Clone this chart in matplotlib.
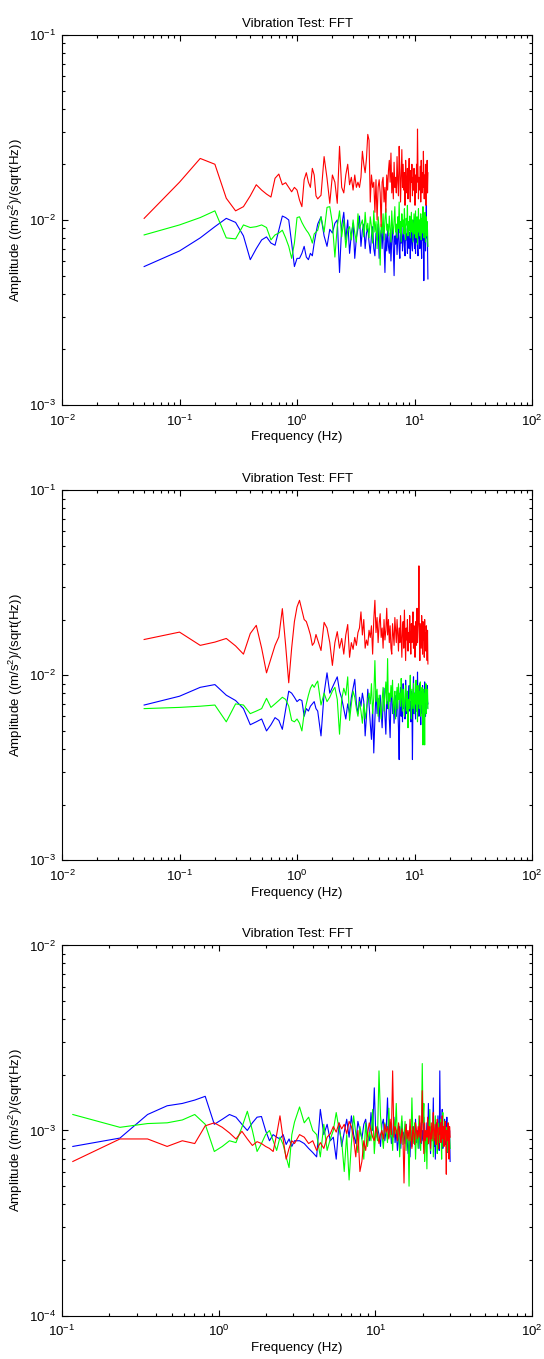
import numpy as np
import matplotlib
matplotlib.use('Agg')
import matplotlib.pyplot as plt
from matplotlib.ticker import LogLocator, NullFormatter

plt.rcParams['font.family'] = ['Liberation Sans', 'DejaVu Sans']
plt.rcParams['mathtext.default'] = 'regular'
plt.rcParams['axes.unicode_minus'] = False

# Amplitudes.  Panels 1-2 in units of 1e-4, panel 3 in 1e-5.
# Panels 1-2: bins every 0.05 Hz up to 1.5 Hz, then every 0.1 Hz up to 13 Hz.
# Panel 3: bins every 0.1172 Hz up to 3.05 Hz, then every other bin up to 30 Hz.

# ---- panel 1 ----
p1_blue = [56, 68, 80, 92, 102, 97, 82, 61, 70, 78, 81, 75, 73, 88, 105, 103, 100, 75, 56, 62,
           62, 66, 72, 63, 61, 66, 64, 75, 85, 95,
           104, 82, 72, 89, 85,
           96, 100, 52, 93, 110, 78, 100, 66, 84, 96,
           62, 80, 90, 105, 72, 88, 95, 70, 85, 90,
           76, 66, 82, 92, 70, 64, 85, 78, 95, 62,
           80, 88, 70, 92, 75, 52, 84, 68, 90, 72,
           66, 85, 60, 78, 94, 70, 50, 82, 74, 88,
           65, 80, 92, 70, 62, 86, 75, 96, 68, 80,
           88, 72, 64, 90, 78, 84, 66, 95, 73, 70,
           86, 62, 80, 92, 74, 68, 88, 78, 100, 70,
           84, 66, 92, 76, 88, 72, 64, 96, 80, 90,
           70, 85, 104, 74, 62, 90, 78, 110, 84, 47,
           92, 76, 100, 68, 86, 120, 80, 94, 72, 48]
p1_green = [83, 94, 103, 112, 80, 79, 94, 91, 92, 94, 91, 78, 83, 85, 88, 80, 72, 62, 75, 103,
            104, 97, 92, 88, 85, 81, 75, 84, 86, 88,
            104, 86, 117, 118, 96,
            63, 92, 112, 81, 100, 71, 88, 92, 78, 100,
            85, 76, 108, 90, 95, 100, 81, 110, 88, 96,
            80, 104, 92, 75, 112, 86, 98, 70, 104, 90,
            57, 95, 85, 108, 78, 100, 115, 88, 95, 82,
            105, 90, 76, 112, 92, 84, 100, 118, 86, 95,
            80, 104, 90, 125, 85, 98, 76, 108, 92, 100,
            84, 115, 90, 78, 102, 94, 120, 82, 98, 88,
            105, 80, 95, 110, 86, 100, 76, 92, 108, 84,
            98, 112, 80, 95, 104, 74, 90, 115, 86, 100,
            82, 96, 108, 78, 92, 102, 85, 118, 90, 80,
            100, 86, 110, 76, 95, 104, 82, 98, 88, 72]
p1_red = [102, 160, 215, 200, 131, 112, 118, 135, 155, 145, 138, 133, 168, 177, 155, 159, 150, 142, 150, 145,
          128, 118, 165, 180, 160, 150, 190, 175, 135, 130,
          136, 220, 168, 123, 175,
          160, 123, 250, 150, 140, 175, 200, 155, 170, 145,
          175, 150, 160, 150, 170, 235, 200, 180, 215, 290,
          270, 125, 175, 150, 160, 110, 165, 100, 150, 165,
          140, 92, 160, 170, 125, 150, 110, 175, 145, 185,
          210, 160, 230, 140, 180, 130, 205, 150, 170, 140,
          220, 160, 135, 250, 185, 125, 170, 240, 150, 200,
          145, 180, 120, 210, 165, 140, 190, 130, 175, 215,
          150, 125, 185, 160, 200, 135, 170, 145, 190, 155,
          120, 175, 140, 200, 160, 310, 185, 130, 170, 150,
          145, 195, 125, 210, 165, 140, 180, 150, 235, 160,
          130, 175, 145, 200, 120, 190, 155, 210, 140, 180]

# ---- panel 2 ----
p2_blue = [69, 77, 86, 89, 78, 73, 66, 54, 56, 58, 50, 54, 59, 57, 51, 65, 82, 80, 76, 72,
           74, 73, 60, 66, 64, 68, 70, 72, 66, 64,
           47, 80, 103, 80, 86,
           92, 98, 82, 75, 66, 58, 70, 62, 76, 85,
           95, 70, 62, 76, 68, 80, 72, 47, 60, 84,
           70, 55, 45, 66, 38, 58, 82, 62, 75, 56,
           78, 64, 52, 70, 85, 60, 48, 72, 66, 80,
           58, 46, 74, 84, 62, 70, 55, 78, 66, 60,
           82, 68, 52, 35, 72, 86, 60, 75, 56, 90,
           66, 72, 58, 94, 70, 62, 80, 54, 76, 88,
           64, 72, 56, 82, 68, 35, 76, 98, 62, 80,
           70, 58, 86, 74, 64, 104, 72, 80, 60, 76,
           90, 66, 54, 82, 70, 62, 88, 74, 68, 80,
           64, 92, 70, 60, 84, 76, 66, 88, 72, 70]
p2_green = [66, 67, 68, 69, 56, 70, 69, 62, 64, 66, 75, 67, 70, 73, 76, 74, 68, 57, 56, 58,
            55, 50, 62, 70, 78, 85, 89, 86, 90, 93,
            69, 80, 72, 76, 82,
            86, 74, 48, 74, 85, 78, 98, 57, 70, 82,
            76, 66, 60, 72, 64, 55, 70, 58, 66, 74,
            80, 70, 90, 62, 76, 120, 72, 84, 60, 78,
            68, 58, 74, 86, 64, 78, 92, 70, 123, 66,
            80, 72, 88, 76, 94, 62, 70, 82, 58, 74,
            86, 66, 90, 74, 80, 68, 96, 76, 64, 84,
            72, 60, 78, 88, 70, 64, 82, 52, 74, 66,
            78, 100, 70, 58, 84, 74, 66, 90, 72, 62,
            80, 70, 94, 64, 76, 56, 88, 70, 82, 66,
            74, 92, 60, 78, 70, 86, 64, 42, 76, 84,
            68, 42, 80, 72, 90, 62, 76, 70, 84, 66]
p2_red = [156, 171, 145, 151, 158, 144, 130, 168, 186, 140, 103, 123, 145, 161, 229, 145, 91, 140, 195, 234,
          254, 225, 200, 195, 180, 165, 145, 150, 166, 155,
          136, 193, 180, 150, 113,
          150, 172, 140, 158, 130, 165, 188, 125, 150, 138,
          160, 145, 170, 180, 220, 165, 200, 140, 155, 145,
          175, 160, 185, 130, 200, 254, 170, 205, 150, 190,
          215, 160, 180, 140, 200, 155, 175, 230, 165, 200,
          150, 185, 140, 130, 190, 165, 145, 205, 175, 150,
          200, 168, 135, 180, 150, 210, 160, 125, 175, 195,
          140, 225, 165, 120, 180, 155, 200, 135, 170, 150,
          210, 160, 130, 190, 150, 175, 220, 140, 185, 160,
          125, 195, 170, 145, 230, 150, 180, 200, 390, 160,
          120, 190, 165, 140, 210, 175, 130, 195, 155, 180,
          125, 200, 150, 170, 135, 185, 160, 120, 175, 115]

# ---- panel 3 ----
p3_blue = [82, 91, 122, 136, 140, 146, 153, 108, 115, 122, 118, 108, 100, 110, 118, 119, 100, 88, 95, 92,
           90, 95, 84, 90, 82, 88,
           88, 85, 80, 76, 72, 130, 95, 108, 88, 92, 70, 110, 82, 98, 115, 92,
           120, 95, 85, 112, 100, 90, 108, 115, 96, 88,
           125, 100, 170, 92, 105, 95, 82, 108, 115, 88,
           100, 150, 92, 110, 85, 95, 118, 86, 100, 78,
           90, 105, 80, 112, 92, 98, 85, 108, 90, 75,
           88, 72, 100, 82, 95, 105, 90, 115, 86, 100,
           92, 80, 110, 95, 85, 100, 88, 118, 76, 95,
           90, 110, 84, 140, 100, 92, 75, 105, 88, 98,
           150, 82, 100, 70, 95, 110, 85, 120, 92, 78,
           210, 95, 110, 88, 130, 80, 105, 92, 115, 84,
           100, 90, 118, 76, 96, 108, 82, 100, 68]
p3_green = [122, 104, 109, 110, 114, 122, 108, 77, 82, 88, 86, 104, 127, 100, 77, 85, 95, 100, 88, 78,
            92, 84, 72, 63, 95, 111,
            134, 110, 118, 100, 95, 72, 108, 78, 90, 100, 125, 102, 88, 60, 95, 54,
            85, 120, 96, 76, 105, 90, 70, 110, 82, 98,
            88, 130, 75, 100, 88, 210, 120, 95, 80, 110,
            100, 86, 132, 92, 105, 78, 115, 96, 140, 88,
            108, 72, 100, 120, 84, 95, 112, 78, 100, 90,
            50, 105, 88, 150, 96, 85, 110, 70, 100, 92,
            80, 120, 95, 78, 105, 230, 110, 140, 68, 90,
            100, 62, 115, 85, 95, 130, 78, 104, 88, 110,
            72, 100, 92, 120, 84, 98, 75, 110, 90, 102,
            86, 115, 95, 70, 105, 125, 82, 98, 90, 112,
            88, 104, 76, 96, 110, 85, 100, 92, 80]
p3_red = [68, 90, 90, 82, 88, 85, 106, 110, 104, 97, 90, 99, 90, 83, 87, 85, 82, 80, 77, 95,
          120, 90, 70, 80, 88, 85,
          95, 92, 85, 88, 78, 86, 80, 92, 96, 105, 98, 110, 102, 108, 96, 112,
          105, 90, 72, 100, 60, 68, 88, 78, 95, 110,
          100, 92, 88, 105, 96, 85, 95, 100, 90, 108,
          98, 105, 90, 115, 95, 210, 92, 105, 100, 88,
          110, 96, 85, 102, 92, 52, 95, 108, 90, 100,
          88, 115, 92, 80, 105, 96, 84, 110, 100, 90,
          105, 92, 120, 86, 100, 164, 95, 75, 110, 88,
          100, 92, 118, 85, 105, 96, 80, 110, 90, 102,
          125, 88, 98, 108, 84, 100, 115, 92, 80, 104,
          95, 110, 86, 100, 120, 90, 105, 82, 98, 112,
          92, 58, 100, 88, 110, 95, 70, 105, 92]

# frequency bins
f12 = np.r_[0.05 * np.arange(1, 31), 1.5 + 0.1 * np.arange(1, 116)]
f3 = 0.1172 * np.r_[np.arange(1, 27), np.arange(28, 257, 2)]

panels = [
    (f12, p1_blue, p1_green, p1_red, 1e-4, (1e-2, 1e2), (1e-3, 1e-1), 0.702),
    (f12, p2_blue, p2_green, p2_red, 1e-4, (1e-2, 1e2), (1e-3, 1e-1), 0.367),
    (f3, p3_blue, p3_green, p3_red, 1e-5, (1e-1, 1e2), (1e-4, 1e-2), 0.032),
]

fig = plt.figure(figsize=(5.44, 13.59), dpi=100)
fs = 9.5

for f, b, g, r, unit, xlim, ylim, bottom in panels:
    ax = fig.add_axes([0.114, bottom, 0.864, 0.2723])
    ax.loglog(f, np.array(b) * unit, color='#0000ff', lw=0.8)
    ax.loglog(f, np.array(g) * unit, color='#00ff00', lw=0.8)
    ax.loglog(f, np.array(r) * unit, color='#ff0000', lw=0.8)
    ax.set_xlim(xlim)
    ax.set_ylim(ylim)
    ax.xaxis.set_major_locator(LogLocator(base=10, numticks=10))
    ax.yaxis.set_major_locator(LogLocator(base=10, numticks=10))
    ax.xaxis.set_minor_locator(LogLocator(base=10, subs=np.arange(2, 10), numticks=20))
    ax.yaxis.set_minor_locator(LogLocator(base=10, subs=np.arange(2, 10), numticks=20))
    ax.xaxis.set_minor_formatter(NullFormatter())
    ax.yaxis.set_minor_formatter(NullFormatter())
    ax.tick_params(which='both', direction='in', top=True, right=True, labelsize=fs, width=0.8)
    ax.tick_params(which='major', length=4, pad=4)
    ax.tick_params(axis='x', which='major', pad=6)
    ax.tick_params(which='minor', length=2.5)
    for s in ax.spines.values():
        s.set_linewidth(0.8)
    ax.set_title('Vibration Test: FFT', fontsize=fs, pad=6)
    ax.set_xlabel('Frequency (Hz)', fontsize=fs, labelpad=2)
    ax.set_ylabel('Amplitude ((m/s$^2$)/(sqrt(Hz))', fontsize=fs, labelpad=3)

fig.savefig('out.png', dpi=100, facecolor='white')
